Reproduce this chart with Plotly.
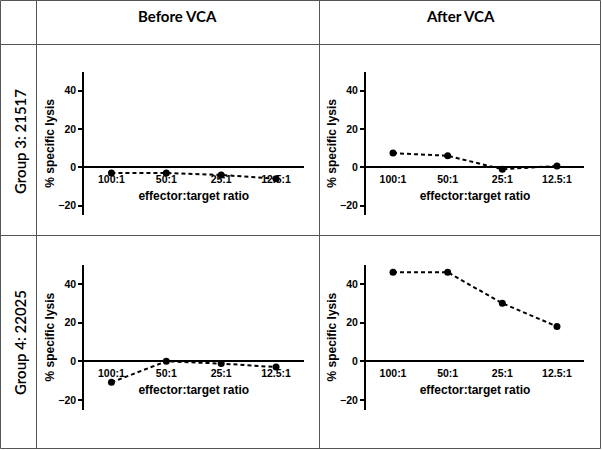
import plotly.graph_objects as go

ratios = ["100:1", "50:1", "25:1", "12.5:1"]
g3_before = [-3, -3, -4, -6]
g3_after = [7.4, 6.0, -1.0, 0.7]
g4_before = [-10.9, 0, -1.2, -3]
g4_after = [46, 46, 30, 18]
col_titles = ["Before VCA", "After VCA"]
row_titles = ["Group 3: 21517", "Group 4: 22025"]
y_ticks = [-20, 0, 20, 40]

W, H = 602, 450
YR = [-25, 50]
XR = [-0.5, 3.5]

def px_x(a, b):
    return [a / W, b / W]

def px_y(top, bottom):
    return [1 - bottom / H, 1 - top / H]

panels = [
    (g3_before, px_x(84, 303.5), px_y(71.5, 215.2)),
    (g3_after, px_x(365.7, 584.3), px_y(71.5, 215.2)),
    (g4_before, px_x(84, 303.5), px_y(264.6, 409.6)),
    (g4_after, px_x(365.7, 584.3), px_y(264.6, 409.6)),
]

axfont = dict(family="Liberation Sans, Arial, sans-serif", size=10.5, color="black", weight="bold")
titlefont = dict(family="Liberation Sans, Arial, sans-serif", size=12, color="black", weight="bold")

fig = go.Figure()
layout = {}
for i, (vals, xd, yd) in enumerate(panels, start=1):
    xa = "x" if i == 1 else f"x{i}"
    ya = "y" if i == 1 else f"y{i}"
    fig.add_trace(go.Scatter(
        x=ratios, y=vals, xaxis=xa, yaxis=ya, mode="lines+markers",
        line=dict(color="black", width=2, dash="4px,3px"),
        marker=dict(color="black", size=7),
        showlegend=False, hoverinfo="x+y",
    ))
    zero_pos = yd[0] + (0 - YR[0]) / (YR[1] - YR[0]) * (yd[1] - yd[0])
    layout[f"xaxis{'' if i == 1 else i}"] = dict(
        domain=xd, range=XR, type="category", categoryarray=ratios,
        anchor="free", position=zero_pos,
        showline=True, linecolor="black", linewidth=1.5,
        showgrid=False, zeroline=False, ticks="", tickfont=axfont,
        ticklabelstandoff=2,
        title=dict(text="effector:target ratio", font=titlefont, standoff=7),
        fixedrange=True,
    )
    layout[f"yaxis{'' if i == 1 else i}"] = dict(
        domain=yd, range=YR, anchor=xa, tickvals=y_ticks,
        showline=True, linecolor="black", linewidth=1.5,
        ticks="outside", ticklen=4, tickwidth=1.5, tickcolor="black",
        showgrid=False, zeroline=False, tickfont=axfont,
        title=dict(text="% specific lysis", font=titlefont, standoff=1),
        fixedrange=True,
    )

shapes = []
lc = dict(color="#555555", width=1)
for (x0, y0, x1, y1) in [(0.5, 0.5, 600.5, 0.5), (0.5, 448.5, 600.5, 448.5),
                         (0.5, 0.5, 0.5, 448.5), (600.5, 0.5, 600.5, 448.5),
                         (36.5, 0.5, 36.5, 448.5), (319.5, 0.5, 319.5, 448.5),
                         (0.5, 44.5, 600.5, 44.5), (0.5, 235.5, 600.5, 235.5)]:
    shapes.append(dict(type="line", xref="paper", yref="paper",
                       x0=x0 / W, x1=x1 / W, y0=1 - y0 / H, y1=1 - y1 / H, line=lc))

hfont = dict(family="Lato, Open Sans, sans-serif", size=15, color="black", weight="bold")
rfont = dict(family="Lato, Open Sans, sans-serif", size=15, color="black", weight=600)
annotations = [
    dict(text=col_titles[0], x=177.5 / W, y=1 - 16 / H, xref="paper", yref="paper",
         showarrow=False, font=hfont, xanchor="center", yanchor="middle"),
    dict(text=col_titles[1], x=460 / W, y=1 - 16 / H, xref="paper", yref="paper",
         showarrow=False, font=hfont, xanchor="center", yanchor="middle"),
    dict(text=row_titles[0], x=20 / W, y=1 - 142 / H, xref="paper", yref="paper",
         showarrow=False, font=rfont, textangle=-90, xanchor="center", yanchor="middle"),
    dict(text=row_titles[1], x=20 / W, y=1 - 343 / H, xref="paper", yref="paper",
         showarrow=False, font=rfont, textangle=-90, xanchor="center", yanchor="middle"),
]

fig.update_layout(
    width=W, height=H, autosize=False,
    margin=dict(l=0, r=0, t=0, b=0),
    paper_bgcolor="white", plot_bgcolor="white",
    shapes=shapes, annotations=annotations,
    **layout,
)
fig.write_html("out.html", config={"displayModeBar": False},
               post_script="document.body.style.margin='0';document.body.style.padding='0';")
